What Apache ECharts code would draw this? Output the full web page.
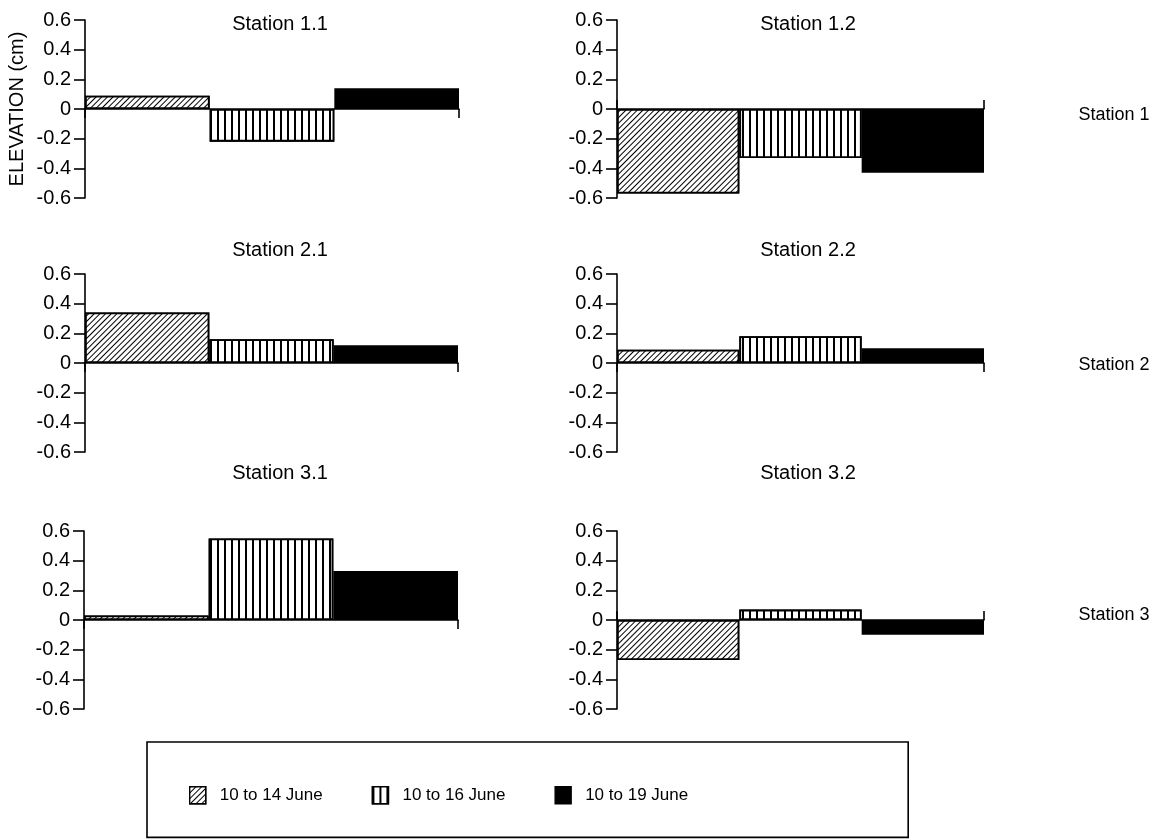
<!DOCTYPE html>
<html><head><meta charset="utf-8">
<script src="https://cdn.jsdelivr.net/npm/echarts@6/dist/echarts.min.js"></script>
<style>html,body{margin:0;padding:0;background:#fff}#c{width:1172px;height:839px}</style>
</head><body><div id="c"></div>
<script>
// ---- data ----
const periods = ['10 to 14 June', '10 to 16 June', '10 to 19 June'];
const panelTitles = ['Station 1.1', 'Station 1.2', 'Station 2.1', 'Station 2.2', 'Station 3.1', 'Station 3.2'];
const rowLabels = ['Station 1', 'Station 2', 'Station 3'];
const yAxisName = 'ELEVATION (cm)';
const yMin = -0.6, yMax = 0.6, yStep = 0.2;
const station11 = [0.09, -0.22, 0.14];
const station12 = [-0.57, -0.33, -0.43];
const station21 = [0.34, 0.16, 0.12];
const station22 = [0.09, 0.18, 0.10];
const station31 = [0.03, 0.55, 0.33];
const station32 = [-0.27, 0.07, -0.10];
const panelValues = [station11, station12, station21, station22, station31, station32];

// ---- styles / layout ----
const FONT = '"Liberation Sans", Arial, Helvetica, sans-serif';
const decals = [
  {symbol: 'rect', symbolSize: 1, color: '#000', backgroundColor: '#fff', dashArrayX: [1, 0], dashArrayY: [1, 3], rotation: -Math.PI / 4},
  {symbol: 'rect', symbolSize: 1, color: '#000', backgroundColor: '#fff', dashArrayX: [[2, 5]], dashArrayY: [1, 0]},
  null
];
const fills = ['#fff', '#fff', '#000'];
const layout = [
  {left: 85, top: 20, width: 374, height: 178, tx: 280, ty: 14, inside: false},
  {left: 617, top: 20, width: 367, height: 178, tx: 808, ty: 14, inside: true},
  {left: 85, top: 274, width: 373, height: 178, tx: 280, ty: 240, inside: false},
  {left: 617, top: 274, width: 367, height: 178, tx: 808, ty: 240, inside: false},
  {left: 84, top: 531, width: 374, height: 178, tx: 280, ty: 463, inside: false},
  {left: 617, top: 531, width: 367, height: 178, tx: 808, ty: 463, inside: true}
];
const rowLabelPos = [{x: 1114, y: 106}, {x: 1114, y: 356}, {x: 1114, y: 606}];

const grid = [], xAxis = [], yAxis = [], series = [], title = [];
layout.forEach((L, p) => {
  grid.push({left: L.left, top: L.top, width: L.width, height: L.height, containLabel: false});
  xAxis.push({
    type: 'category', gridIndex: p, data: periods, boundaryGap: true,
    axisLine: {onZero: true, lineStyle: {color: '#000', width: 1.6}},
    axisTick: {show: true, inside: L.inside, length: 9, interval: (i) => i === 0, lineStyle: {color: '#000', width: 1.6}},
    axisLabel: {show: false}, splitLine: {show: false}
  });
  yAxis.push({
    type: 'value', gridIndex: p, min: yMin, max: yMax, interval: yStep,
    name: p === 0 ? yAxisName : '', nameLocation: 'middle', nameGap: 58, nameRotate: 90,
    nameTextStyle: {color: '#000', fontSize: 20, fontFamily: FONT},
    axisLine: {show: true, lineStyle: {color: '#000', width: 1.6}},
    axisTick: {show: true, length: 11, lineStyle: {color: '#000', width: 1.6}},
    axisLabel: {color: '#000', fontSize: 20, fontFamily: FONT, margin: 14,
      formatter: v => (Math.abs(v) < 1e-9 ? '0' : (Math.round(v * 10) / 10).toString())},
    splitLine: {show: false}
  });
  title.push({text: panelTitles[p], left: L.tx, top: L.ty, textAlign: 'center', padding: 0,
    textStyle: {color: '#000', fontSize: 20, fontWeight: 'normal', fontFamily: FONT}});
  periods.forEach((name, k) => {
    const data = periods.map((_, j) => (j === k ? panelValues[p][j] : '-'));
    const itemStyle = {color: fills[k], borderColor: '#000', borderWidth: 1.8};
    if (decals[k]) itemStyle.decal = decals[k];
    series.push({
      type: 'bar', name, xAxisIndex: p, yAxisIndex: p, data,
      barGap: '-100%', barCategoryGap: '0%', itemStyle, emphasis: {disabled: true}
    });
  });
});
rowLabels.forEach((t, r) => {
  title.push({text: t, left: rowLabelPos[r].x, top: rowLabelPos[r].y, textAlign: 'center', padding: 0,
    textStyle: {color: '#000', fontSize: 18, fontWeight: 'normal', fontFamily: FONT}});
});

const chart = echarts.init(document.getElementById('c'), null, {renderer: 'canvas'});
chart.setOption({
  animation: false,
  backgroundColor: '#fff',
  title, grid, xAxis, yAxis, series,
  legend: {
    data: periods, left: 147, top: 742, orient: 'horizontal',
    padding: [44, 220, 33, 42], itemGap: 49, itemWidth: 16, itemHeight: 17,
    borderColor: '#000', borderWidth: 1.6, selectedMode: false, icon: 'rect',
    itemStyle: {borderColor: '#000', borderWidth: 1.4},
    textStyle: {color: '#000', fontSize: 17, fontFamily: FONT, padding: [0, 0, 0, 9]}
  }
});
</script></body></html>
